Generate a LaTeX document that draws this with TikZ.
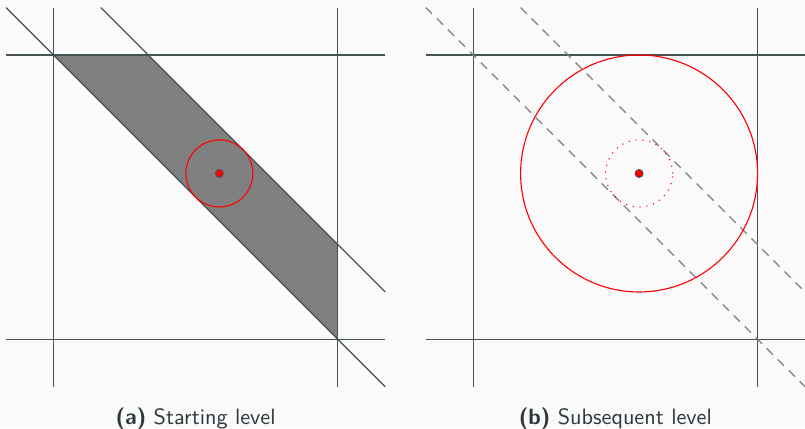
\documentclass[tikz,border=0pt]{standalone}
\usepackage{tikz}
\usetikzlibrary{calc}
\definecolor{gridcol}{RGB}{70,82,86}
\definecolor{ink}{RGB}{44,56,60}
\definecolor{paper}{RGB}{250,250,250}
\definecolor{band}{RGB}{128,128,128}

\begin{document}
\begin{tikzpicture}[x=1.5cm,y=1.5cm,
  gridline/.style={draw=gridcol,line width=0.5pt},
  dashline/.style={draw=gray,line width=0.5pt,dash pattern=on 4pt off 3pt},
  ball/.style={draw=red,line width=0.5pt},
  dotball/.style={draw=red,line width=0.5pt,dash pattern=on 0.5pt off 2.6pt},
  centre/.style={circle,fill=red,draw=gridcol,line width=0.4pt,inner sep=0pt,minimum size=3.6pt},
  subcap/.style={font=\sffamily,text=ink,anchor=base}
]
% Frame
\fill[paper] (-0.564,-0.935) rectangle (7.928,3.580);
\useasboundingbox (-0.564,-0.935) rectangle (7.928,3.580);

% (a) Starting level
\coordinate (midA) at (1.75,1.75);
\fill[band] (0,3) -- (1,3) -- (3,1) -- (3,0) -- cycle;
\foreach \t in {0,3}{
  \draw[gridline] (\t,-0.5) -- (\t,3.5);
  \draw[gridline] (-0.5,\t) -- (3.5,\t);
}
\draw[gridline] (-0.5,3.5) -- (3.5,-0.5);
\draw[gridline] (0.5,3.5) -- (3.5,0.5);
\draw[ball] (midA) circle (0.3536);
\node[centre] (dotA) at (midA) {};
\node[subcap] (capA) at (1.5,-0.897) {\textbf{(a)} Starting level};

% (b) Subsequent level
\begin{scope}[shift={(4.428,0)}]
\coordinate (midB) at (1.75,1.75);
\foreach \t in {0,3}{
  \draw[gridline] (\t,-0.5) -- (\t,3.5);
  \draw[gridline] (-0.5,\t) -- (3.5,\t);
}
\draw[dashline] (-0.5,3.5) -- (3.5,-0.5);
\draw[dashline] (0.5,3.5) -- (3.5,0.5);
\draw[ball] (midB) circle (1.25);
\draw[dotball] (midB) circle (0.3536);
\node[centre] (dotB) at (midB) {};
\node[subcap] (capB) at (1.5,-0.897) {\textbf{(b)} Subsequent level};
\end{scope}
\end{tikzpicture}
\end{document}
